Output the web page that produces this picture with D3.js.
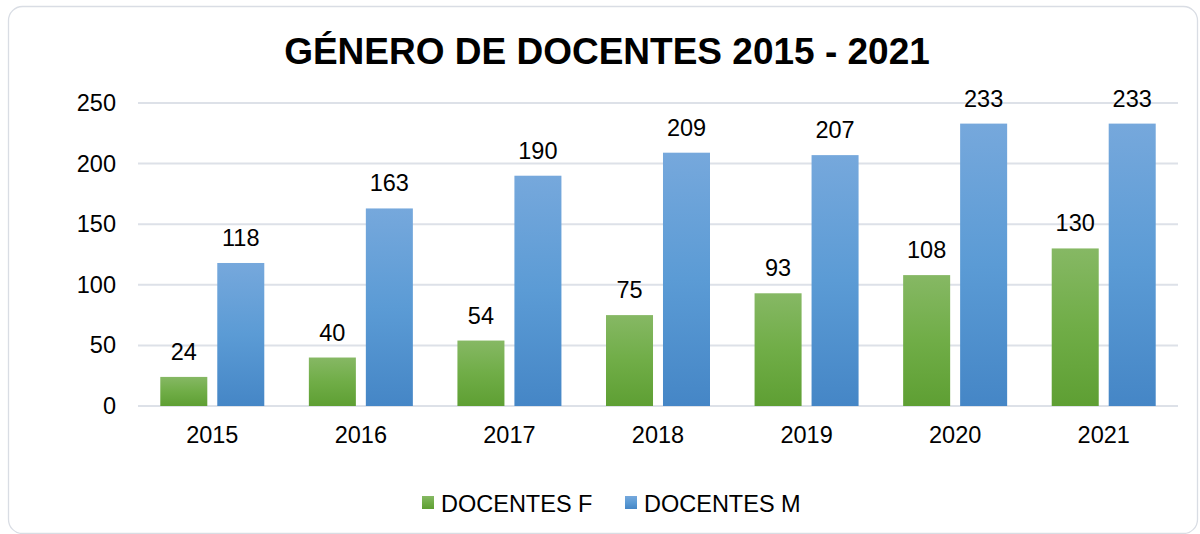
<!DOCTYPE html>
<html lang="es">
<head>
    <meta charset="UTF-8">
    <title>Género de docentes 2015 - 2021</title>
    <script src="https://d3js.org/d3.v7.min.js"></script>
    <style>
        body, html {
            margin: 0;
            overflow: hidden;
            background-color: #ffffff;
            font-family: "Liberation Sans", Arial, sans-serif;
        }
        .grid line {
            stroke: #dde1e8;
            stroke-width: 2px;
        }
        .lbl {
            font-size: 23.5px;
            fill: #000;
        }
    </style>
</head>
<body>
    <script>
        // datos
        const years = ['2015', '2016', '2017', '2018', '2019', '2020', '2021'];
        const docentesF = [24, 40, 54, 75, 93, 108, 130];
        const docentesM = [118, 163, 190, 209, 207, 233, 233];
        const seriesNames = ['DOCENTES F', 'DOCENTES M'];
        const yTicks = [0, 50, 100, 150, 200, 250];

        const width = 1200, height = 534;
        const margin = { top: 103, right: 22, bottom: 128, left: 138 };

        const svg = d3.select('body').append('svg')
            .attr('width', width)
            .attr('height', height);

        // gradientes tipo Excel
        const defs = svg.append('defs');
        const grads = [
            { id: 'gF', stops: ['#86b864', '#70ad47', '#5e9f33'] },
            { id: 'gM', stops: ['#76a8dc', '#5b9bd5', '#4586c6'] }
        ];
        grads.forEach(g => {
            const lg = defs.append('linearGradient')
                .attr('id', g.id)
                .attr('x1', 0).attr('y1', 0).attr('x2', 0).attr('y2', 1);
            g.stops.forEach((c, i) => {
                lg.append('stop').attr('offset', (i * 50) + '%').attr('stop-color', c);
            });
        });

        // marco del gráfico
        svg.append('rect')
            .attr('x', 8.5).attr('y', 6.5)
            .attr('width', 1189).attr('height', 527)
            .attr('rx', 14)
            .attr('fill', '#fff')
            .attr('stroke', '#d9dde4')
            .attr('stroke-width', 1.3);

        svg.append('text')
            .attr('x', 607)
            .attr('y', 64)
            .attr('text-anchor', 'middle')
            .style('font-size', '37px')
            .style('font-weight', 'bold')
            .text('GÉNERO DE DOCENTES 2015 - 2021');

        const x0 = d3.scaleBand()
            .domain(years)
            .range([margin.left, width - margin.right])
            .paddingInner(0.3)
            .paddingOuter(0.15);

        const x1 = d3.scaleBand()
            .domain(seriesNames)
            .range([0, x0.bandwidth()])
            .paddingInner(0.175);

        const y = d3.scaleLinear()
            .domain([0, 250])
            .range([height - margin.bottom, margin.top]);

        // rejilla
        svg.append('g')
            .attr('class', 'grid')
            .selectAll('line')
            .data(yTicks)
            .enter().append('line')
            .attr('x1', margin.left)
            .attr('x2', width - margin.right)
            .attr('y1', d => y(d))
            .attr('y2', d => y(d));

        // eje y
        svg.append('g')
            .selectAll('text')
            .data(yTicks)
            .enter().append('text')
            .attr('class', 'lbl')
            .attr('x', 116)
            .attr('y', d => y(d) + 8)
            .attr('text-anchor', 'end')
            .text(d => d);

        // eje x
        svg.append('g')
            .selectAll('text')
            .data(years)
            .enter().append('text')
            .attr('class', 'lbl')
            .attr('x', d => x0(d) + x0.bandwidth() / 2)
            .attr('y', 443)
            .attr('text-anchor', 'middle')
            .text(d => d);

        const rows = years.map((yr, i) => ({
            year: yr,
            vals: [
                { key: seriesNames[0], v: docentesF[i], fill: 'url(#gF)' },
                { key: seriesNames[1], v: docentesM[i], fill: 'url(#gM)' }
            ]
        }));

        const grp = svg.selectAll('.grp')
            .data(rows)
            .enter().append('g')
            .attr('class', 'grp')
            .attr('transform', d => `translate(${x0(d.year)},0)`);

        grp.selectAll('rect')
            .data(d => d.vals)
            .enter().append('rect')
            .attr('x', d => x1(d.key))
            .attr('width', x1.bandwidth())
            .attr('y', d => y(d.v))
            .attr('height', d => y(0) - y(d.v))
            .attr('fill', d => d.fill);

        grp.selectAll('text')
            .data(d => d.vals)
            .enter().append('text')
            .attr('class', 'lbl')
            .attr('x', d => x1(d.key) + x1.bandwidth() / 2)
            .attr('y', d => y(d.v) - 17)
            .attr('text-anchor', 'middle')
            .text(d => d.v);

        // leyenda
        const legend = [
            { name: seriesNames[0], fill: 'url(#gF)', x: 422 },
            { name: seriesNames[1], fill: 'url(#gM)', x: 625 }
        ];
        const lg = svg.selectAll('.leg')
            .data(legend)
            .enter().append('g')
            .attr('class', 'leg')
            .attr('transform', d => `translate(${d.x},496)`);
        lg.append('rect')
            .attr('width', 12).attr('height', 13)
            .attr('fill', d => d.fill);
        lg.append('text')
            .attr('class', 'lbl')
            .attr('x', 19)
            .attr('y', 16)
            .text(d => d.name);
    </script>
</body>
</html>
